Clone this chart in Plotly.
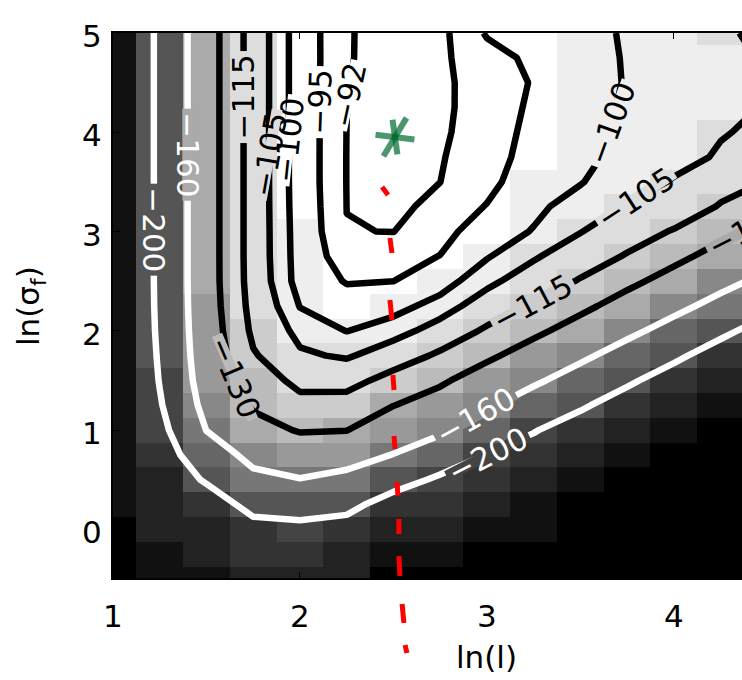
import plotly.graph_objects as go

# Grid of the likelihood surface: ln(l) across, ln(sigma_f) up
ln_l = [1.0, 1.25, 1.5, 1.75, 2.0, 2.25, 2.5, 2.75, 3.0, 3.25, 3.5, 3.75, 4.0, 4.25, 4.5]
ln_sigma_f = [-0.5, -0.25, 0.0, 0.25, 0.5, 0.75, 1.0, 1.25, 1.5, 1.75, 2.0, 2.25,
              2.5, 2.75, 3.0, 3.25, 3.5, 3.75, 4.0, 4.25, 4.5, 4.75, 5.0]

# log marginal likelihood, one row per ln(sigma_f) value
log_lik = [
    [-262, -258, -252, -236, -233, -240, -262, -266, -276, -290, -305, -320, -335, -350, -364],
    [-261, -250, -242, -224, -221, -227, -247, -251, -261, -273, -290, -305, -320, -335, -349],
    [-260, -242, -232, -212, -209, -214, -232, -236, -246, -258, -275, -290, -305, -320, -334],
    [-259, -234, -220, -188.3, -184.2, -190, -215.6, -221, -231, -243, -260, -275, -290, -305, -319],
    [-259, -226, -196, -167.5, -161, -168, -185, -206, -216, -228, -245, -260, -275, -290, -304],
    [-258, -218, -177, -151.3, -144, -148, -160.8, -177, -201, -213, -230, -245, -260, -275, -289],
    [-258, -210, -159.4, -137.6, -128.5, -129.6, -143.5, -155.5, -177, -198.2, -215, -230, -245, -260, -274],
    [-257, -203, -150, -127.5, -118.8, -119.7, -129.6, -139, -156.2, -175, -195.7, -215, -230, -245, -259],
    [-256, -198.5, -144, -121.8, -111.7, -111.1, -119, -127, -140.2, -155.4, -173, -194.7, -215, -230, -244],
    [-254, -196, -141, -116.1, -106.1, -104.1, -109.2, -116.8, -126.4, -139.1, -154.3, -172.4, -193.6, -215, -229],
    [-253, -194, -139.5, -112.5, -102.8, -99.9, -102.3, -108.0, -116.6, -125.8, -138.3, -153.3, -170.9, -192.6, -214],
    [-252, -193, -138.5, -110.5, -99.8, -97.2, -98.3, -101.8, -108.8, -116.2, -125.4, -138, -152.2, -169.3, -190.7],
    [-252, -192.5, -138, -109.3, -97.9, -94.7, -94.98, -97.8, -103.2, -109.2, -115.8, -125.4, -137.2, -151.3, -167.4],
    [-252, -192.5, -138, -109, -97.7, -93.0, -93.4, -95.1, -99.6, -104.1, -109.9, -115.8, -125.1, -136.9, -150.4],
    [-252, -192.5, -138, -109, -97.55, -92.05, -91.97, -93.5, -97.4, -100.3, -104.7, -110.4, -115.75, -125.1, -136.2],
    [-252, -192.5, -138, -109, -97.35, -91.98, -91.5, -92.6, -95.2, -98.9, -102.1, -105.4, -109, -115.75, -124.75],
    [-252, -192.5, -138, -109, -97.2, -91.95, -91.2, -91.99, -93.8, -97.55, -99.7, -103.3, -105.3, -111.4, -115.4],
    [-252, -192.5, -138, -109, -97.2, -91.95, -91.0, -91.85, -93.2, -96.66, -98.6, -101.8, -103.9, -105.36, -109.5],
    [-252, -192.5, -138, -109, -97.2, -91.97, -90.9, -91.7, -92.95, -96.15, -98.2, -101.2, -103.4, -104.8, -105.63],
    [-252, -192.5, -138, -109, -97.2, -92.02, -90.95, -91.6, -92.9, -95.66, -97.9, -100.66, -102.6, -103.8, -105.3],
    [-252, -192.5, -138, -109, -97.2, -92.08, -91.05, -91.55, -93.0, -95.27, -97.8, -100.3, -102.1, -103.7, -105.2],
    [-252, -192.5, -138, -109, -97.2, -92.15, -91.2, -91.4, -93.9, -95.62, -98.0, -100.38, -102.2, -103.8, -105.4],
    [-252, -192.5, -138, -109, -97.2, -92.12, -91.4, -91.2, -95.3, -97.0, -98.6, -100.44, -102.5, -104.4, -105.9],
]

# contour levels drawn in black and in white
levels_dark = [-92, -95, -100, -105, -115, -130]
levels_light = [-160, -200]

# contour labels: level, position on the line and text direction
label_level = [-92, -95, -100, -105, -115, -160, -200, -130, -160, -200, -115, -105, -100, -130]
label_l = [2.262, 2.105, 1.940, 1.835, 1.698, 1.400, 1.218, 1.650, 2.941, 3.005, 3.241, 3.797, 3.667, 4.396]
label_sf = [4.376, 4.305, 3.922, 3.771, 4.355, 3.771, 3.016, 1.530, 1.140, 0.750, 2.280, 3.340, 4.090, 3.030]
label_angle = [-78, -88, -84, -80, -90, 90, 90, 67, -29, -27, -28, -33, -70, -27]

# boundaries between the 16 grey shades of the background image (ascending)
shade_edges = [-259.7, -242.2, -225.8, -210.5, -196.3, -183.1, -170.7, -159.2,
               -148.4, -138.4, -129.0, -120.3, -112.2, -104.0, -97.5]

x_ticks = [1, 2, 3, 4]
y_ticks = [0, 1, 2, 3, 4, 5]

# location of the maximum
best_l = [2.508]
best_sf = [3.952]

# red dashed path (pairs of dash end points, None between dashes)
path_l = [2.439, 2.471, None, 2.481, 2.492, None, 2.481, 2.492, None, 2.497, 2.503, None,
          2.503, 2.508, None, 2.519, 2.524, None, 2.529, 2.529, None, 2.529, 2.535, None,
          2.546, 2.556, None, 2.562, 2.572]
path_sf = [3.449, 3.368, None, 2.935, 2.784, None, 2.310, 2.109, None, 1.555, 1.404, None,
           0.940, 0.809, None, 0.477, 0.336, None, 0.104, -0.047, None, -0.269, -0.470, None,
           -0.752, -0.943, None, -1.165, -1.246]

FONT = "DejaVu Sans, Liberation Sans, sans-serif"
FS = 31
W, H = 742, 680
X_RANGE = [1.0, 4.364]
Y_RANGE = [-0.49, 5.0]
X_DOM = [113 / W, 1.0]
Y_DOM = [1 - 578 / H, 1 - 33 / H]


def grey(level):
    g = 17 * level
    return f"rgb({g},{g},{g})"


def shade_index(v):
    return sum(1 for e in shade_edges if v >= e)


# stepped grey colour scale
zmin, zmax = -420.0, -90.0
edges = [zmin] + shade_edges + [zmax]
colorscale = []
for k in range(16):
    lo = (edges[k] - zmin) / (zmax - zmin)
    hi = (edges[k + 1] - zmin) / (zmax - zmin)
    colorscale += [[lo, grey(k)], [hi, grey(k)]]

fig = go.Figure()
fig.add_trace(go.Heatmap(x=ln_l, y=ln_sigma_f, z=log_lik, colorscale=colorscale,
                         zmin=zmin, zmax=zmax, showscale=False, hoverinfo="skip"))

for levels, col in ((levels_light, "white"), (levels_dark, "black")):
    for lev in levels:
        fig.add_trace(go.Contour(
            x=ln_l, y=ln_sigma_f, z=log_lik, autocontour=False, showscale=False,
            contours=dict(start=lev, end=lev, size=1, coloring="none", showlabels=False),
            line=dict(color=col, width=6.5, smoothing=0), hoverinfo="skip"))

green = "#006b2f"
fig.add_trace(go.Scatter(
    x=best_l * 3, y=best_sf * 3, mode="markers", hoverinfo="skip",
    marker=dict(symbol=["line-ns", "line-ns", "line-ew"], size=[25, 32, 28],
                angle=[-8, 31, 7], color=green, line=dict(color=green, width=6))))


# overlay axes spanning the whole page, scaled like the main axes,
# so the dashed path can continue below the plot frame
def full_range(r, d):
    s = (r[1] - r[0]) / (d[1] - d[0])
    return [r[0] - d[0] * s, r[1] + (1 - d[1]) * s]


fig.add_trace(go.Scatter(x=path_l, y=path_sf, mode="lines", xaxis="x2", yaxis="y2",
                         line=dict(color="#ff0000", width=5), connectgaps=False,
                         hoverinfo="skip"))


def to_paper(l, sf):
    px = X_DOM[0] + (l - X_RANGE[0]) / (X_RANGE[1] - X_RANGE[0]) * (X_DOM[1] - X_DOM[0])
    py = Y_DOM[0] + (sf - Y_RANGE[0]) / (Y_RANGE[1] - Y_RANGE[0]) * (Y_DOM[1] - Y_DOM[0])
    return px, py


# contour labels sit in a gap cut into their line
annotations = []
for lev, l, sf, ang in zip(label_level, label_l, label_sf, label_angle):
    text = "\u2212" + str(abs(lev))
    col = "white" if lev in levels_light else "black"
    j = min(range(len(ln_l)), key=lambda k: abs(ln_l[k] - l))
    i = min(range(len(ln_sigma_f)), key=lambda k: abs(ln_sigma_f[k] - sf))
    under = grey(shade_index(log_lik[i][j]))
    gap = (0.838 + 0.636 * (len(text) - 1)) * FS + 6
    if X_RANGE[0] <= l <= X_RANGE[1]:
        pos = dict(x=l, y=sf, xref="x", yref="y")
    else:
        px, py = to_paper(l, sf)
        pos = dict(x=px, y=py, xref="paper", yref="paper")
    annotations.append(dict(text=" ", width=gap, height=10, bgcolor=under, borderpad=0,
                            textangle=ang, showarrow=False, xanchor="center",
                            yanchor="middle", **pos))
    annotations.append(dict(text=text, textangle=ang, showarrow=False, xanchor="center",
                            yanchor="middle", font=dict(family=FONT, size=FS, color=col),
                            **pos))

axis_font = dict(family=FONT, size=FS, color="black")

# tick labels
for t in x_ticks:
    annotations.append(dict(text=str(t), x=t, xref="x", y=1 - 616 / H, yref="paper",
                            xanchor="center", yanchor="middle", showarrow=False,
                            font=axis_font))
for t in y_ticks:
    annotations.append(dict(text=str(t), x=104 / W, xref="paper", y=t, yref="y",
                            xanchor="right", yanchor="middle", yshift=-3,
                            showarrow=False, font=axis_font))

annotations += [
    dict(text="ln(σ<sub>f</sub>)", x=31 / W, y=1 - 306 / H, xref="paper", yref="paper",
         xanchor="center", yanchor="middle", showarrow=False, textangle=-90, font=axis_font),
    dict(text="ln(l)", x=486 / W, y=1 - 657 / H, xref="paper", yref="paper",
         xanchor="center", yanchor="middle", showarrow=False, font=axis_font),
]

fig.update_layout(
    width=W, height=H, margin=dict(l=0, r=0, t=0, b=0, pad=0, autoexpand=False),
    paper_bgcolor="white", plot_bgcolor="rgba(0,0,0,0)", showlegend=False,
    xaxis=dict(domain=X_DOM, range=X_RANGE, tickvals=x_ticks, ticks="inside", ticklen=6,
               tickcolor="black", showline=True, linecolor="black", linewidth=1.5,
               mirror="ticks", showgrid=False, zeroline=False, showticklabels=False),
    yaxis=dict(domain=Y_DOM, range=Y_RANGE, tickvals=y_ticks, ticks="inside", ticklen=7,
               tickcolor="black", showline=True, linecolor="black", linewidth=1.5,
               showgrid=False, zeroline=False, showticklabels=False),
    xaxis2=dict(domain=[0, 1], range=full_range(X_RANGE, X_DOM), anchor="y2",
                visible=False, fixedrange=True),
    yaxis2=dict(domain=[0, 1], range=full_range(Y_RANGE, Y_DOM), anchor="x2",
                visible=False, fixedrange=True),
    annotations=annotations,
)

fig.write_html("out.html")
